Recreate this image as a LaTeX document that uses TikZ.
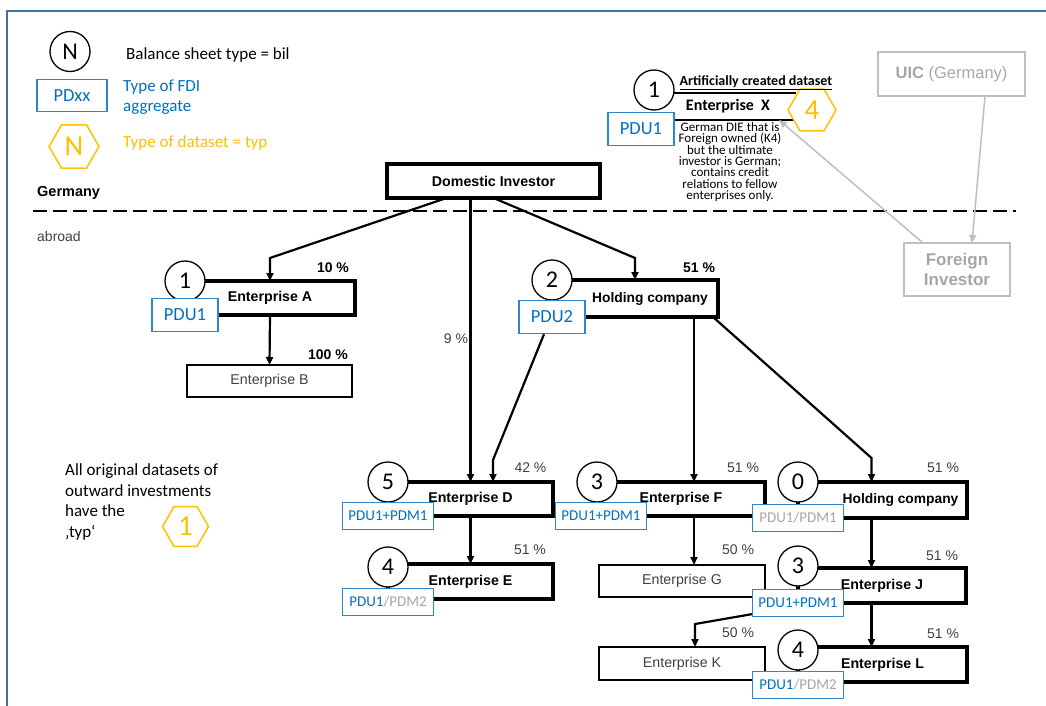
\documentclass[tikz,border=0pt]{standalone}
\usepackage{fontspec}
\setmainfont{Liberation Sans}
\newfontfamily\calibri{Carlito}
\usetikzlibrary{arrows.meta,shapes.geometric}

\definecolor{framebl}{RGB}{68,114,160}
\definecolor{pdblue}{RGB}{0,112,192}
\definecolor{pdline}{RGB}{46,134,206}
\definecolor{typyel}{RGB}{255,192,0}
\definecolor{lgray}{RGB}{191,191,191}
\definecolor{mgray}{RGB}{166,166,166}
\definecolor{dgray}{RGB}{64,64,64}

\tikzset{
  entbox/.style={draw, line width=3.3pt, minimum height=34pt, inner sep=0pt, outer sep=0pt,
    font=\fontsize{14.2}{16}\selectfont\bfseries},
  plainbox/.style={draw, line width=1.6pt, minimum height=32pt, inner sep=0pt, outer sep=0pt,
    text=dgray, font=\fontsize{14.2}{16}\selectfont},
  bilnum/.style={circle, draw, line width=1.3pt, fill=white, minimum size=40pt, inner sep=0pt,
    font=\calibri\fontsize{24}{24}\selectfont},
  pdbox/.style={draw=pdline, line width=1.3pt, fill=white, inner sep=0pt, text=pdblue,
    minimum width=66pt, minimum height=33pt, font=\calibri\fontsize{18.5}{18.5}\selectfont},
  pdmbox/.style={pdbox, minimum width=91pt, minimum height=27pt,
    font=\calibri\fontsize{15}{15}\selectfont},
  typhex/.style={regular polygon, regular polygon sides=6, draw=typyel, line width=1.5pt,
    fill=white, text=typyel, inner sep=0pt, font=\calibri\fontsize{29}{29}\selectfont},
  legtext/.style={inner sep=0pt, font=\calibri\fontsize{17}{20.5}\selectfont},
  graybox/.style={draw=lgray, line width=1.5pt, text=mgray, inner sep=0pt, outer sep=0pt,
    font=\fontsize{16.5}{20}\selectfont},
  pct/.style={inner sep=0pt, text=dgray, font=\fontsize{14}{16}\selectfont},
  pctb/.style={inner sep=0pt, font=\fontsize{14}{16}\selectfont\bfseries},
  arr/.style={line width=2.2pt, -{Triangle[length=8pt,width=7pt]}},
  grayarr/.style={draw=lgray, line width=1.5pt, -{Triangle[length=8pt,width=7pt]}}
}

\begin{document}
\begin{tikzpicture}[x=1pt,y=-1pt]
\useasboundingbox (0,0) rectangle (1046,706);
\draw[framebl, line width=1.5pt] (7,706) -- (7,11) -- (1046,11);

\node[bilnum] (legn) at (70,51.5) {N};
\node[legtext, anchor=base west] (legbil) at (126,60) {Balance sheet type = bil};
\node[pdbox, minimum width=70pt, minimum height=32pt] (legpd) at (72,95.5) {PDxx};
\node[legtext, text=pdblue, anchor=west, align=left] (legfdi) at (123,97) {Type of FDI\\aggregate};
\node[typhex, minimum size=50pt] (legtyp) at (74,146.5) {N};
\node[legtext, text=typyel, anchor=base west] (legtypt) at (123,147) {Type of dataset = typ};
\node[pctb, anchor=base west, font=\fontsize{14.5}{16}\selectfont\bfseries] (germany) at (37,196) {Germany};
\node[pct, anchor=base west] (abroad) at (37,241) {abroad};
\draw[line width=2.5pt, dash pattern=on 14pt off 6pt] (33,211) -- (1016,211);

\node[graybox, minimum width=147pt, minimum height=44pt] (uic) at (951.5,74) {{\bfseries UIC} (Germany)};
\node[graybox, minimum width=106pt, minimum height=53pt, align=center,
  font=\fontsize{17}{20.5}\selectfont\bfseries] (forinv) at (957,269.5) {Foreign\\Investor};

\node[minimum width=136pt, minimum height=27pt, inner sep=0pt, outer sep=0pt,
  font=\calibri\fontsize{16}{18}\selectfont\bfseries] (ex) at (728,106.5) {Enterprise\ \ X};
\draw[line width=2.5pt] (ex.north west) -- (ex.north east) (ex.south west) -- (ex.south east);
\node[bilnum] (nx) at (654,90) {1};
\node[pdbox] (pdx) at (641,129) {PDU1};
\node[typhex, minimum size=48pt] (tx) at (812,110) {4};
\node[inner sep=0pt, anchor=base, font=\calibri\fontsize{14}{16}\selectfont\bfseries] (artif) at (756,86)
  {\underline{Artificially created dataset}};
\node[inner sep=0pt, anchor=north, align=center, font=\calibri\fontsize{13}{11.4}\selectfont] (xnote) at (730,122)
  {German DIE that is\\Foreign owned (K4)\\but the ultimate\\investor is German;\\contains credit\\relations to fellow\\enterprises only.};

\node[entbox, minimum width=213pt] (di) at (493.5,181) {Domestic Investor};
\node[entbox, minimum width=170pt] (ea) at (270,298) {Enterprise A};
\node[plainbox, minimum width=165pt] (eb) at (269.5,381) {Enterprise B};
\node[entbox, minimum width=166pt, minimum height=37pt, font=\fontsize{13.8}{16}\selectfont\bfseries] (hc2) at (635,298.5)
  {\hspace*{30pt}Holding company};
\node[entbox, minimum width=165pt] (ed) at (470.5,499) {Enterprise D};
\node[entbox, minimum width=165pt, minimum height=35pt] (ee) at (470.5,581.5) {Enterprise E};
\node[entbox, minimum width=168pt] (ef) at (681,499) {Enterprise F};
\node[plainbox, minimum width=166pt] (eg) at (682,581) {Enterprise G};
\node[entbox, minimum width=169pt, minimum height=36pt, font=\fontsize{13.8}{16}\selectfont\bfseries] (hc0) at (882.5,500)
  {\hspace*{36pt}Holding company};
\node[entbox, minimum width=168pt, minimum height=35pt] (ej) at (882,585.5) {Enterprise J};
\node[plainbox, minimum width=166pt, minimum height=33pt] (ek) at (682,663.5) {Enterprise K};
\node[entbox, minimum width=169pt, minimum height=35pt] (el) at (882.5,664.5) {Enterprise L};

\node[bilnum] (na) at (ea.north west) {1};
\node[bilnum] (nhc2) at (hc2.north west) {2};
\node[bilnum] (nd) at (ed.north west) {5};
\node[bilnum] (ne) at ([yshift=-3pt]ee.north west) {4};
\node[bilnum] (nf) at (ef.north west) {3};
\node[bilnum] (nhc0) at (hc0.north west) {0};
\node[bilnum] (nj) at ([yshift=2pt]ej.north west) {3};
\node[bilnum] (nl) at ([yshift=-3pt]el.north west) {4};

\node[pdbox] (pda) at (ea.south west) {PDU1};
\node[pdbox] (pdhc2) at (hc2.south west) {PDU2};
\node[pdmbox] (pdd) at (ed.south west) {PDU1+PDM1};
\node[pdmbox] (pde) at ([yshift=-3pt]ee.south west) {PDU1{\color{mgray}/PDM2}};
\node[pdmbox] (pdf) at ([xshift=4pt]ef.south west) {PDU1+PDM1};
\node[pdmbox, text=mgray] (pdhc0) at (hc0.south west) {PDU1/PDM1};
\node[pdmbox] (pdj) at (ej.south west) {PDU1+PDM1};
\node[pdmbox] (pdl) at ([yshift=-3pt]el.south west) {PDU1{\color{mgray}/PDM2}};

\node[pctb] (pcta) at (333,268) {10 \%};
\node[pctb] (pctb) at (328,355) {100 \%};
\node[pctb] (pcthc2) at (699,268) {51 \%};
\node[pct] (pctdi) at (456,339) {9 \%};
\node[pct] (pctd) at (530.5,468) {42 \%};
\node[pct] (pcte) at (530,550) {51 \%};
\node[pct] (pctf) at (743,468) {51 \%};
\node[pct] (pctg) at (738,550) {50 \%};
\node[pct] (pcthc0) at (943,468) {51 \%};
\node[pct] (pctj) at (942,556) {51 \%};
\node[pct] (pctk) at (738,633) {50 \%};
\node[pct] (pctl) at (943,634) {51 \%};

\node[legtext, align=left, anchor=north west] (outtext) at (65,463.5)
  {All original datasets of\\outward investments\\have the\\‚typ‘};
\node[typhex, minimum size=46pt] (typone) at (185.5,526.5) {1};

\draw[arr] ([xshift=-47pt]di.south) -- (270,258) -- (ea.north);
\draw[arr] (di.south -| ed.north) -- (ed.north);
\draw[arr] (di.south) -- (635,258) -- (hc2.north);
\draw[arr] (ea.south) -- (eb.north);
\draw[arr] ([xshift=-8pt]pdhc2.south) -- (493,460) -- (ed.north -| 493,0);
\draw[arr] (hc2.south -| 694,0) -- (ef.north -| 694,0);
\draw[arr] ([xshift=-5pt]hc2.south east) -- (871.5,458) -- (hc0.north -| 871.5,0);
\draw[arr] (ed.south) -- (ee.north);
\draw[arr] (ef.south -| 694,0) -- (eg.north -| 694,0);
\draw[arr] (hc0.south -| 871.5,0) -- (ej.north -| 871.5,0);
\draw[arr] ([yshift=3pt]pdj.south west) -- (695,624) -- (ek.north -| 695,0);
\draw[arr] (ej.south -| 871.5,0) -- (el.north -| 871.5,0);

\draw[grayarr] ([xshift=33.5pt]uic.south) -- ([xshift=15pt]forinv.north);
\draw[grayarr] ([xshift=-34pt]forinv.north) -- (ex.south east -| 779,0);
\end{tikzpicture}
\end{document}
